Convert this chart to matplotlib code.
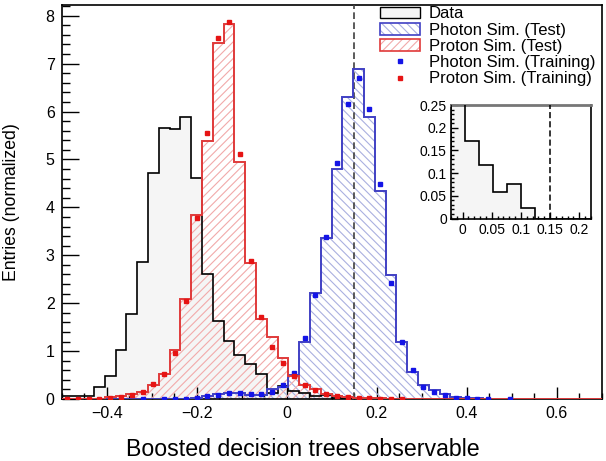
import matplotlib.pyplot as plt
import numpy as np
from matplotlib.lines import Line2D
from matplotlib.patches import Patch
from matplotlib.ticker import MultipleLocator, FuncFormatter

plt.rcParams['font.family'] = ['Liberation Sans', 'DejaVu Sans']
plt.rcParams['hatch.linewidth'] = 0.8

# 50 bins from -0.5 to 0.7
bin_edges = np.linspace(-0.5, 0.7, 51)
bin_centers = 0.5 * (bin_edges[:-1] + bin_edges[1:])
nan = np.nan

# Data histogram (normalized entries)
data = [0.06, 0.06, 0.06, 0.25, 0.49, 1.02, 1.77, 2.85, 4.72, 5.66,
        5.64, 5.89, 4.61, 2.60, 1.63, 1.22, 0.91, 0.74, 0.53, 0.13,
        0.27, 0.171, 0.117, 0.059, 0.077, 0.023, 0, 0, 0, 0,
        0, 0, 0, 0, 0, 0, 0, 0, 0, 0,
        0, 0, 0, 0, 0, 0, 0, 0, 0, 0]

# Simulation, test samples
photon_test = [0, 0, 0, 0, 0, 0, 0, 0.005, 0, 0.005,
               0.005, 0.008, 0.03, 0.07, 0.10, 0.13, 0.13, 0.09, 0.09, 0.20,
               0.26, 0.50, 1.18, 2.21, 3.36, 4.80, 6.30, 6.88, 5.89, 4.34,
               2.59, 1.20, 0.57, 0.29, 0.19, 0.10, 0.05, 0.03, 0.02, 0.01,
               0.005, 0.004, 0, 0, 0, 0, 0, 0, 0, 0]
proton_test = [0, 0, 0, 0.01, 0.035, 0.06, 0.10, 0.14, 0.29, 0.53,
               1.02, 2.09, 3.84, 5.39, 7.43, 7.82, 4.94, 2.83, 1.66, 1.29,
               0.85, 0.47, 0.30, 0.20, 0.11, 0.06, 0.04, 0.03, 0.02, 0.012,
               0.008, 0.004, 0, 0, 0, 0, 0, 0, 0, 0,
               0, 0, 0, 0, 0, 0, 0, 0, 0, 0]

# Simulation, training samples (nan = empty bin)
photon_train = [nan, nan, nan, nan, nan, nan, nan, 0.004, nan, 0.004,
                0.004, 0.006, 0.02, 0.06, 0.09, 0.13, 0.12, 0.10, 0.10, 0.15,
                0.29, 0.55, 1.28, 2.17, 3.39, 4.93, 6.16, 6.69, 6.05, 4.49,
                2.43, 1.20, 0.60, 0.24, 0.15, 0.08, 0.03, 0.015, 0.01, 0.005,
                nan, 0.003, nan, nan, nan, nan, nan, nan, nan, nan]
proton_train = [0.003, 0.003, 0.003, 0.003, 0.03, 0.05, 0.08, 0.15, 0.31, 0.52,
                0.97, 2.05, 3.77, 5.55, 7.53, 7.86, 5.11, 2.89, 1.72, 1.09,
                0.745, 0.47, 0.29, 0.19, 0.10, 0.07, 0.05, 0.03, 0.015, 0.01,
                0.005, 0.003, nan, nan, nan, nan, nan, nan, nan, nan,
                nan, nan, nan, nan, nan, nan, nan, nan, nan, nan]

cut_value = 0.15

blue_line = '#4040c4'
blue_hatch = '#aab0e0'
red_line = '#e03a3a'
red_hatch = '#f2aaaa'
data_fill = '#f5f5f5'
blue_hatch_pat = '\\\\\\\\'
red_hatch_pat = '////'


def root_fmt(v, pos):
    s = f'{v:.3g}'
    if s in ('-0', '0.0'):
        s = '0'
    return s.replace('-', '\u2212')


def draw_data(a):
    a.stairs(data, bin_edges, fill=True, facecolor=data_fill, edgecolor='none', zorder=1)
    a.stairs(data, bin_edges, color='black', lw=1.2, zorder=4)


fig = plt.figure(figsize=(6.06, 4.61), dpi=100)
ax = fig.add_axes([0.1018, 0.1345, 0.8908, 0.8553])

draw_data(ax)
ax.stairs(photon_test, bin_edges, fill=True, facecolor='none', edgecolor=blue_hatch,
          hatch=blue_hatch_pat, lw=0, zorder=2)
ax.stairs(photon_test, bin_edges, color=blue_line, lw=1.4, zorder=5)
ax.stairs(proton_test, bin_edges, fill=True, facecolor='none', edgecolor=red_hatch,
          hatch=red_hatch_pat, lw=0, zorder=2)
ax.stairs(proton_test, bin_edges, color=red_line, lw=1.4, zorder=5)
ax.plot(bin_centers, photon_train, 's', color='#1414e6', ms=2.8, zorder=6)
ax.plot(bin_centers, proton_train, 's', color='#e61414', ms=2.8, zorder=6)
ax.axvline(cut_value, color='#404040', ls=(0, (4, 2)), lw=1.2, zorder=3)

ax.set_xlim(-0.5, 0.7)
ax.set_ylim(0, 8.23)
ax.xaxis.set_major_locator(MultipleLocator(0.2))
ax.xaxis.set_minor_locator(MultipleLocator(0.05))
ax.yaxis.set_major_locator(MultipleLocator(1))
ax.yaxis.set_minor_locator(MultipleLocator(0.2))
ax.xaxis.set_major_formatter(FuncFormatter(root_fmt))
ax.tick_params(which='both', direction='in', top=False, right=False, labelsize=11.5, width=1)
ax.tick_params(axis='x', which='major', length=8.5, pad=5)
ax.tick_params(axis='x', which='minor', length=4.3)
ax.tick_params(axis='y', which='major', length=12, pad=5)
ax.tick_params(axis='y', which='minor', length=6)
for sp in ax.spines.values():
    sp.set_linewidth(1.2)

ax.set_xlabel('Boosted decision trees observable', fontsize=16.7)
ax.xaxis.set_label_coords(0.4466, -0.098)
ax.set_ylabel('Entries (normalized)', fontsize=12.7)
ax.yaxis.set_label_coords(-0.078, 0.5)

handles = [
    Patch(facecolor=data_fill, edgecolor='black', lw=1),
    (Patch(facecolor='white', edgecolor=blue_hatch, hatch=blue_hatch_pat, lw=0),
     Patch(facecolor='none', edgecolor=blue_line, lw=1.2)),
    (Patch(facecolor='white', edgecolor=red_hatch, hatch=red_hatch_pat, lw=0),
     Patch(facecolor='none', edgecolor=red_line, lw=1.2)),
    Line2D([], [], marker='s', ls='none', color='#1414e6', ms=2.8),
    Line2D([], [], marker='s', ls='none', color='#e61414', ms=2.8),
]
labels = ['Data', 'Photon Sim. (Test)', 'Proton Sim. (Test)',
          'Photon Sim. (Training)', 'Proton Sim. (Training)']
fig.legend(handles, labels, loc='upper left', bbox_to_anchor=(380 / 606, 1 - 6.5 / 461),
           frameon=False, fontsize=12, handlelength=2.4, handleheight=0.7,
           handletextpad=0.54, labelspacing=0.075, borderpad=0, borderaxespad=0)

# inset: zoom on the data tail around the cut
ax_in = fig.add_axes([0.7442, 0.526, 0.231, 0.2462])
draw_data(ax_in)
ax_in.axvline(cut_value, color='black', ls=(0, (4, 2)), lw=1.1, zorder=3)
ax_in.set_xlim(-0.02, 0.22)
ax_in.set_ylim(0, 0.25)
ax_in.xaxis.set_major_locator(MultipleLocator(0.05))
ax_in.xaxis.set_minor_locator(MultipleLocator(0.01))
ax_in.yaxis.set_major_locator(MultipleLocator(0.05))
ax_in.yaxis.set_minor_locator(MultipleLocator(0.01))
ax_in.xaxis.set_major_formatter(FuncFormatter(root_fmt))
ax_in.yaxis.set_major_formatter(FuncFormatter(root_fmt))
ax_in.tick_params(which='both', direction='in', top=False, right=False, labelsize=10, width=1)
ax_in.tick_params(which='major', length=5, pad=3)
ax_in.tick_params(which='minor', length=2.5)
for sp in ax_in.spines.values():
    sp.set_linewidth(1.2)
ax_in.spines['top'].set_color('#777777')
ax_in.spines['top'].set_linewidth(2)

fig.savefig('out.png', dpi=100)
